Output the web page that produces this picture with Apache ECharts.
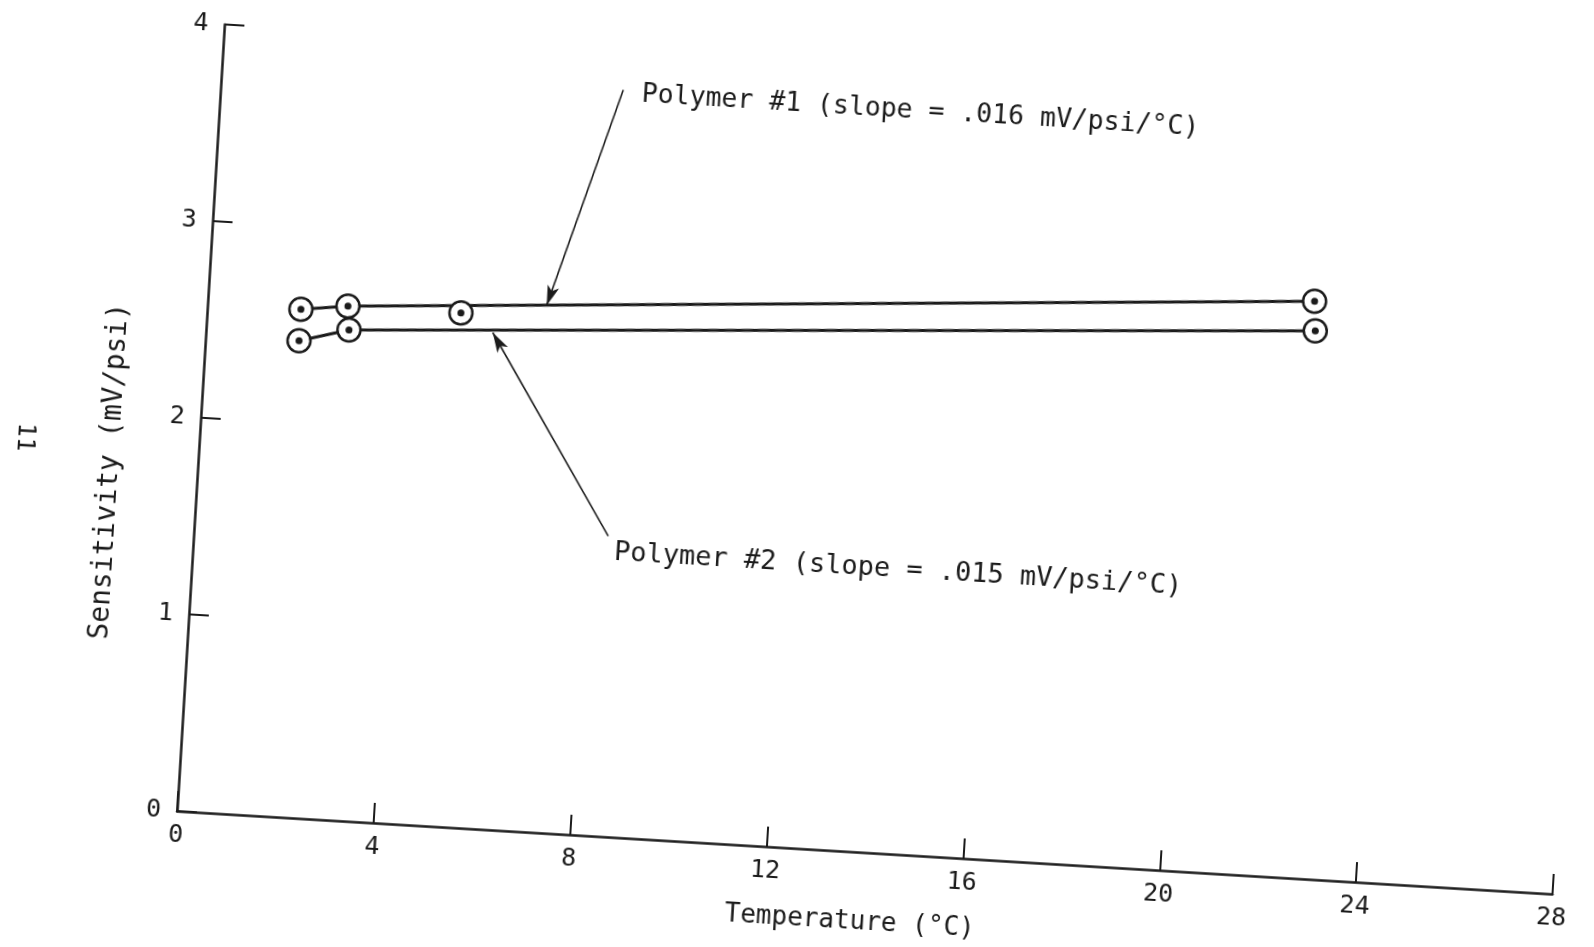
<!DOCTYPE html>
<html>
<head>
<meta charset="utf-8">
<script src="https://cdn.jsdelivr.net/npm/echarts@6.0.0/dist/echarts.min.js"></script>
<style>
  html, body { margin: 0; padding: 0; background: #fff; width: 1594px; height: 947px; overflow: hidden; }
  /* the plotted sheet sits slightly turned on the page */
  #chart {
    position: absolute; left: -100px; top: -60px;
    width: 1794px; height: 1067px;
    transform-origin: 277px 871px;
    transform: rotate(3.45deg);
  }
</style>
</head>
<body>
<div id="chart"></div>
<script>
// Sensitivity vs. temperature for two polymer transducers
const polymer1Temp = [1.9, 2.85, 22.45];
const polymer1Sens = [2.58, 2.61, 2.93];
const polymer1OffTemp = [5.15];      // measured point lying off the fitted line
const polymer1OffSens = [2.61];
const polymer2Temp = [1.9, 2.9, 22.5];
const polymer2Sens = [2.42, 2.49, 2.78];

const note1 = 'Polymer #1 (slope = .016 mV/psi/°C)';
const note2 = 'Polymer #2 (slope = .015 mV/psi/°C)';
const note1At = [8.5, 3.77];
const note2At = [8.5, 1.44];
const leader1 = [[8.17, 3.79], [6.88, 2.675]];
const leader2 = [[8.41, 1.525], [5.82, 2.52]];

const xTitle = 'Temperature (°C)';
const yTitle = 'Sensitivity (mV/psi)';
const pageNo = '11';

const ink = '#1b1b1b';
const mono = '"DejaVu Sans Mono", monospace';

const zip = (xs, ys) => xs.map((x, i) => [x, ys[i]]);
const p1 = zip(polymer1Temp, polymer1Sens);
const p1off = zip(polymer1OffTemp, polymer1OffSens);
const p2 = zip(polymer2Temp, polymer2Sens);
const allPts = p1.concat(p1off, p2);

const ring = { color: '#fff', borderColor: ink, borderWidth: 2.5, opacity: 1 };
const arrowEnd = { symbol: 'arrow', symbolSize: [9, 20] };

const chart = echarts.init(document.getElementById('chart'), null, { renderer: 'canvas' });

chart.setOption({
  animation: false,
  backgroundColor: 'transparent',
  grid: { left: 277, top: 83, width: 1378, height: 788, containLabel: false },
  xAxis: {
    type: 'value', min: 0, max: 28, interval: 4,
    name: xTitle, nameLocation: 'middle', nameGap: 57,
    nameTextStyle: { fontFamily: mono, fontSize: 26, color: ink, padding: [0, 22, 0, 0] },
    axisLine: { show: true, lineStyle: { color: ink, width: 2.5 } },
    axisTick: { show: true, inside: true, length: 20, lineStyle: { color: ink, width: 2 } },
    axisLabel: { margin: 12, fontFamily: mono, fontSize: 25, color: ink },
    splitLine: { show: false }
  },
  yAxis: {
    type: 'value', min: 0, max: 4, interval: 1,
    name: yTitle, nameLocation: 'middle', nameGap: 73,
    nameTextStyle: { fontFamily: mono, fontSize: 28, color: ink, padding: [0, 118, 0, 0] },
    axisLine: { show: true, lineStyle: { color: ink, width: 2.5 } },
    axisTick: { show: true, inside: true, length: 20, lineStyle: { color: ink, width: 2 } },
    axisLabel: { margin: 16, fontFamily: mono, fontSize: 25, color: ink },
    splitLine: { show: false }
  },
  series: [
    {
      name: 'Polymer #1', type: 'line', data: p1,
      symbol: 'circle', symbolSize: 23, itemStyle: ring,
      lineStyle: { color: ink, width: 3 }, z: 3
    },
    {
      name: 'Polymer #1 (off-line)', type: 'scatter', data: p1off,
      symbol: 'circle', symbolSize: 23, itemStyle: ring, z: 3
    },
    {
      name: 'Polymer #2', type: 'line', data: p2,
      symbol: 'circle', symbolSize: 23, itemStyle: ring,
      lineStyle: { color: ink, width: 3 }, z: 3
    },
    {
      name: 'centres', type: 'scatter', data: allPts,
      symbol: 'circle', symbolSize: 7, itemStyle: { color: ink, opacity: 1 }, z: 5,
      silent: true,
      markLine: {
        silent: true, animation: false,
        symbol: ['none', 'arrow'], symbolSize: 16,
        label: { show: false },
        lineStyle: { color: ink, width: 1.6, type: 'solid', opacity: 1 },
        itemStyle: { color: ink },
        data: [
          [{ coord: leader1[0], symbol: 'none' }, Object.assign({ coord: leader1[1] }, arrowEnd)],
          [{ coord: leader2[0], symbol: 'none' }, Object.assign({ coord: leader2[1] }, arrowEnd)]
        ]
      },
      markPoint: {
        silent: true, animation: false,
        symbol: 'circle', symbolSize: 1,
        itemStyle: { color: 'rgba(0,0,0,0)' },
        label: { show: true, position: 'right', distance: 2, fontFamily: mono, color: ink },
        data: [
          { coord: note1At, label: { formatter: note1, fontSize: 26.5 } },
          { coord: note2At, label: { formatter: note2, fontSize: 27 } }
        ]
      }
    }
  ],
  graphic: [
    {
      type: 'text', x: 102, y: 507, rotation: -Math.PI / 2,
      style: { text: pageNo, fontFamily: mono, fontSize: 24, fill: ink, align: 'center', verticalAlign: 'middle' }
    }
  ]
});
</script>
</body>
</html>
